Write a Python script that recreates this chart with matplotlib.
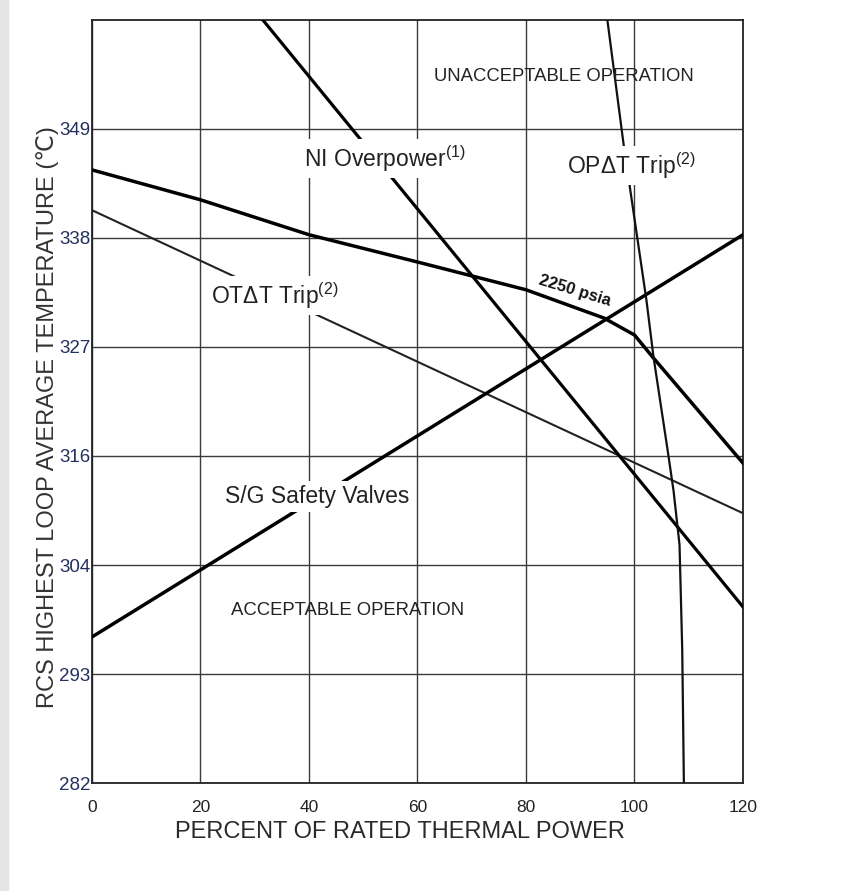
import matplotlib
matplotlib.use("Agg")
import matplotlib.pyplot as plt
from matplotlib.patches import Rectangle

plt.rcParams['font.family'] = ['Liberation Sans', 'DejaVu Sans']
plt.rcParams['mathtext.fontset'] = 'custom'
plt.rcParams['mathtext.rm'] = 'Liberation Sans'

# axis values (temperatures in deg C, grid evenly spaced in deg F)
x_ticks = [0, 20, 40, 60, 80, 100, 120]
y_tick_pos = [282.22, 293.33, 304.44, 315.56, 326.67, 337.78, 348.89]
y_tick_labels = ['282', '293', '304', '316', '327', '338', '349']

# 2250 psia limit
psia_x = [0, 20, 40, 60, 80, 94.4, 100, 103.3, 120]
psia_y = [344.72, 341.67, 338.11, 335.33, 332.50, 329.61, 327.89, 325.67, 314.83]

# OT delta-T trip
ot_x = [0, 120]
ot_y = [340.61, 309.72]

# NI overpower
ni_x = [31.5, 120]
ni_y = [360.0, 300.17]

# S/G safety valves
sg_x = [0, 120]
sg_y = [297.11, 338.11]

# OP delta-T trip
op_x = [95.0, 98.0, 102.2, 103.5, 106.1, 107.2, 108.3, 108.8, 109.1]
op_y = [360.0, 347.28, 331.44, 325.67, 316.17, 312.0, 306.5, 295.78, 282.22]

fig = plt.figure(figsize=(8.45, 8.91), dpi=100)
fig.patches.append(Rectangle((0, 0), 8 / 845, 1, transform=fig.transFigure,
                             color='#e4e4e4', zorder=0))
ax = fig.add_axes([92 / 845, 108 / 891, 651 / 845, 763 / 891])

ax.set_xlim(0, 120)
ax.set_ylim(282.22, 360.0)
ax.set_xticks(x_ticks)
ax.set_yticks(y_tick_pos)
ax.set_yticklabels(y_tick_labels)
ax.tick_params(axis='both', length=0)
ax.tick_params(axis='y', labelsize=13.5, labelcolor='#23305e', pad=1)
ax.tick_params(axis='x', labelsize=12.5, labelcolor='#222222', pad=12)
ax.grid(True, color='#3a3a3a', linewidth=1.0)
ax.set_axisbelow(True)
for s in ax.spines.values():
    s.set_linewidth(1.3)
    s.set_color('#222222')

ax.plot(psia_x, psia_y, color='black', linewidth=2.5, zorder=3)
ax.plot(ot_x, ot_y, color='#222222', linewidth=1.5, zorder=3)
ax.plot(ni_x, ni_y, color='black', linewidth=2.3, zorder=3)
ax.plot(sg_x, sg_y, color='black', linewidth=2.5, zorder=3)
ax.plot(op_x, op_y, color='#111111', linewidth=1.6, zorder=3)

box = dict(facecolor='white', edgecolor='none', pad=3)
ax.text(87, 354.2, 'UNACCEPTABLE OPERATION', fontsize=13.3, color='#222222',
        ha='center', va='center', zorder=4)
ax.text(47.1, 299.8, 'ACCEPTABLE OPERATION', fontsize=13.3, color='#222222',
        ha='center', va='center', zorder=4)
ax.text(54, 345.9, 'NI Overpower$^{(1)}$', fontsize=16.5, color='#222222',
        ha='center', va='center', bbox=box, zorder=5)
ax.text(99.5, 345.2, 'OP\u0394T Trip$^{(2)}$', fontsize=16.5, color='#222222',
        ha='center', va='center', bbox=box, zorder=5)
ax.text(33.7, 331.9, 'OT\u0394T Trip$^{(2)}$', fontsize=16.5, color='#222222',
        ha='center', va='center', bbox=box, zorder=5)
ax.text(41.6, 311.4, 'S/G Safety Valves', fontsize=16.5, color='#222222',
        ha='center', va='center', bbox=box, zorder=5)
ax.text(89, 332.4, '2250 psia', fontsize=12, fontweight='bold', color='#111111',
        ha='center', va='center', rotation=-17, zorder=5)

ax.set_xlabel('PERCENT OF RATED THERMAL POWER', fontsize=17, color='#2a2a2a',
              va='center')
ax.xaxis.set_label_coords(0.473, -0.064)
ax.set_ylabel('RCS HIGHEST LOOP AVERAGE TEMPERATURE (\u2103)', fontsize=17,
              color='#333333', va='center')
ax.yaxis.set_label_coords(-0.068, 0.48)

plt.savefig('out.png', dpi=100)
